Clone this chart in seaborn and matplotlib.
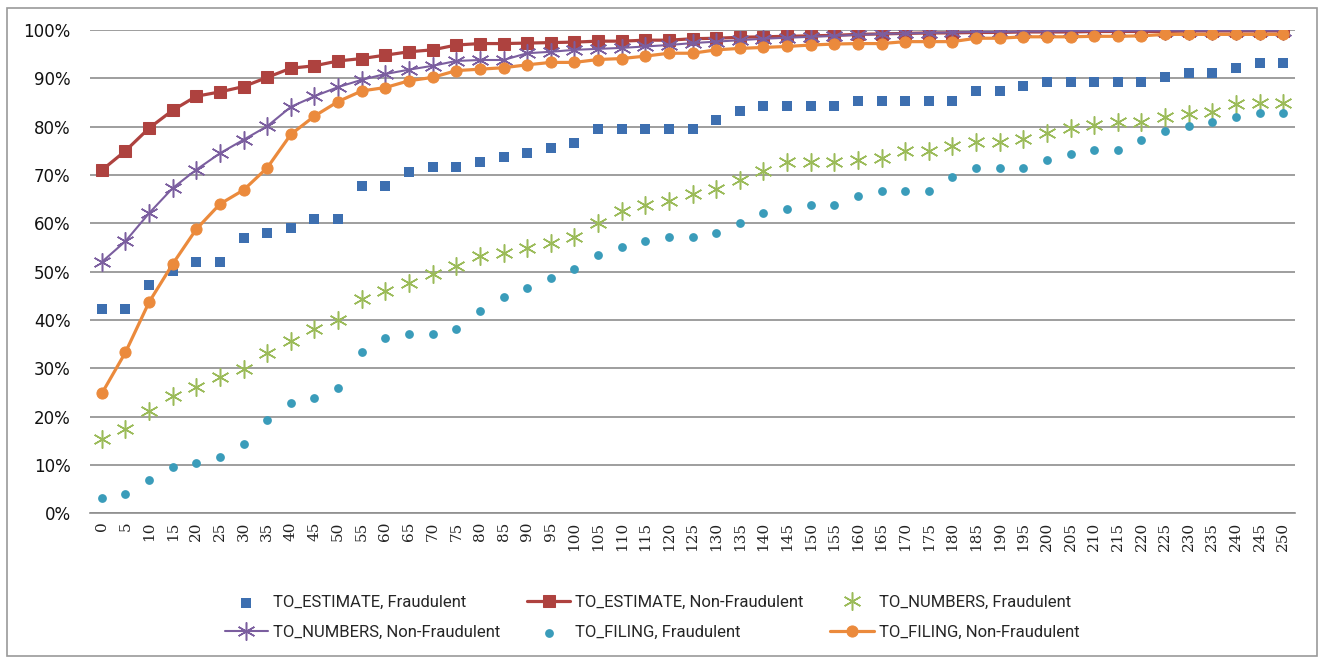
import numpy as np
import pandas as pd
import matplotlib
matplotlib.use("Agg")
import matplotlib.pyplot as plt
from matplotlib.patches import Rectangle
from matplotlib.ticker import PercentFormatter
import seaborn as sns


days = list(range(0, 251, 5))

est_fraud = [42.2, 42.2, 47.2, 50.1, 52.1, 52.1, 57.0, 57.9, 59.0, 60.9, 60.9,
             67.7, 67.7, 70.6, 71.7, 71.7, 72.6, 73.7, 74.5, 75.5, 76.6,
             79.5, 79.5, 79.5, 79.5, 79.5, 81.4, 83.3, 84.3, 84.3, 84.3,
             84.3, 85.3, 85.3, 85.3, 85.3, 85.3, 87.4, 87.4, 88.4, 89.3,
             89.3, 89.3, 89.3, 89.3, 90.2, 91.2, 91.2, 92.2, 93.2, 93.2]
est_nonfraud = [71.0, 75.0, 79.7, 83.4, 86.3, 87.2, 88.3, 90.2, 92.1, 92.6, 93.6,
                94.1, 94.8, 95.5, 95.9, 96.9, 97.2, 97.2, 97.3, 97.4, 97.5,
                97.7, 97.7, 97.9, 97.9, 98.2, 98.3, 98.5, 98.6, 98.7, 98.8,
                98.9, 99.1, 99.2, 99.3, 99.4, 99.4, 99.5, 99.5, 99.6, 99.6,
                99.6, 99.7, 99.7, 99.7, 99.7, 99.8, 99.8, 99.8, 99.8, 99.8]
num_fraud = [15.4, 17.4, 21.2, 24.3, 26.2, 28.3, 29.9, 33.1, 35.7, 38.1, 39.9,
             44.3, 46.1, 47.7, 49.5, 51.2, 53.2, 53.8, 54.8, 56.0, 57.2,
             60.1, 62.6, 63.8, 64.7, 66.1, 67.2, 69.0, 70.9, 72.6, 72.6,
             72.7, 73.2, 73.6, 75.0, 75.0, 75.9, 76.9, 76.9, 77.4, 78.6,
             79.7, 80.3, 81.0, 81.0, 82.1, 82.6, 83.1, 84.7, 85.0, 85.0]
num_nonfraud = [52.0, 56.3, 62.1, 67.3, 71.1, 74.5, 77.3, 80.1, 84.1, 86.3, 88.2,
                89.7, 90.9, 91.8, 92.6, 93.6, 93.8, 93.8, 95.2, 95.5, 95.9,
                96.1, 96.3, 96.6, 96.9, 97.3, 97.6, 97.9, 98.2, 98.4, 98.6,
                98.8, 99.0, 99.2, 99.3, 99.4, 99.5, 99.6, 99.6, 99.7, 99.7,
                99.8, 99.8, 99.8, 99.9, 99.9, 99.9, 99.9, 99.9, 99.9, 99.9]
filing_fraud = [3.1, 3.9, 6.9, 9.5, 10.5, 11.6, 14.3, 19.2, 22.9, 23.9, 25.9,
                33.4, 36.2, 37.2, 37.2, 38.1, 41.9, 44.8, 46.7, 48.6, 50.5,
                53.4, 55.2, 56.3, 57.2, 57.2, 58.1, 60.0, 62.1, 63.0, 63.8,
                63.8, 65.7, 66.7, 66.7, 66.7, 69.6, 71.4, 71.4, 71.4, 73.2,
                74.3, 75.2, 75.2, 77.2, 79.1, 80.1, 81.0, 81.9, 82.9, 82.9]
filing_nonfraud = [24.8, 33.3, 43.7, 51.6, 58.8, 64.0, 66.9, 71.5, 78.4, 82.2, 85.2,
                   87.4, 88.1, 89.5, 90.2, 91.6, 91.9, 92.2, 92.8, 93.3, 93.3,
                   93.9, 94.1, 94.6, 95.2, 95.2, 95.9, 96.2, 96.4, 96.6, 96.9,
                   97.1, 97.2, 97.2, 97.6, 97.6, 97.6, 98.3, 98.3, 98.6, 98.6,
                   98.6, 98.7, 98.7, 98.8, 99.1, 99.1, 99.1, 99.1, 99.1, 99.1]

labels = ["TO_ESTIMATE, Fraudulent", "TO_ESTIMATE, Non-Fraudulent",
          "TO_NUMBERS, Fraudulent", "TO_NUMBERS, Non-Fraudulent",
          "TO_FILING, Fraudulent", "TO_FILING, Non-Fraudulent"]

blue = "#3D6FB0"
red = "#AE423F"
green = "#9BBB59"
purple = "#7B5E9F"
teal = "#3A9CBA"
orange = "#EB8A3C"
grid_col = "#8E8E8E"

sns.set_style("white")
plt.rcParams["font.family"] = ["DejaVu Sans"]

df = pd.DataFrame({"days": days, "est_f": est_fraud, "est_n": est_nonfraud,
                   "num_f": num_fraud, "num_n": num_nonfraud,
                   "fil_f": filing_fraud, "fil_n": filing_nonfraud})

fig = plt.figure(figsize=(13.2, 6.6), dpi=100)
ax = fig.add_axes([0.0682, 0.2223, 0.9129, 0.7322])

# series drawn in Excel order, later ones on top
sns.scatterplot(data=df, x="days", y="est_f", marker="s", s=52, color=blue,
                linewidth=0, label=labels[0], ax=ax, zorder=3)
sns.lineplot(data=df, x="days", y="est_n", marker="s", markersize=8, color=red,
             markeredgecolor=red, linewidth=2.3, label=labels[1], ax=ax, zorder=4)
sns.lineplot(data=df, x="days", y="num_f", marker=(6, 2, 0), markersize=13,
             linestyle="", color=green, markeredgecolor=green, markeredgewidth=1.1,
             label=labels[2], ax=ax, zorder=5)
sns.lineplot(data=df, x="days", y="num_n", marker=(6, 2, 0), markersize=13,
             color=purple, markeredgecolor=purple, markeredgewidth=1.1,
             linewidth=1.5, label=labels[3], ax=ax, zorder=6)
sns.scatterplot(data=df, x="days", y="fil_f", marker="o", s=40, color=teal,
                linewidth=0, label=labels[4], ax=ax, zorder=7)
sns.lineplot(data=df, x="days", y="fil_n", marker="o", markersize=8, color=orange,
             markeredgecolor=orange, linewidth=2.3, label=labels[5], ax=ax, zorder=8)

ax.set_xlim(-2.5, 252.5)
ax.set_ylim(0, 100)
ax.set_xticks(days)
ax.set_xticklabels([str(d) for d in days], rotation=90)
ax.set_yticks(np.arange(0, 101, 10))
ax.yaxis.set_major_formatter(PercentFormatter(100, decimals=0))
ax.tick_params(axis="x", length=0, pad=6, labelsize=11, labelcolor="#222222",
               labelfontfamily="DejaVu Serif")
ax.tick_params(axis="y", length=0, pad=14, labelsize=12, labelcolor="#111111",
               labelfontfamily="DejaVu Sans")
ax.set_xlabel("")
ax.set_ylabel("")
ax.grid(axis="y", color=grid_col, linewidth=1.2)
ax.set_axisbelow(True)
for side in ["top", "right", "left"]:
    ax.spines[side].set_visible(False)
ax.spines["bottom"].set_color(grid_col)
ax.spines["bottom"].set_linewidth(1.2)

handles, labs = ax.get_legend_handles_labels()
if ax.get_legend() is not None:
    ax.get_legend().remove()
order = [0, 3, 1, 4, 2, 5]
fig.legend([handles[i] for i in order], [labs[i] for i in order], ncol=3,
           loc="center", bbox_to_anchor=(0.494, 0.064), frameon=False,
           prop={"family": ["Roboto", "DejaVu Sans"], "size": 12},
           handlelength=2.6, columnspacing=1.6, labelspacing=0.9, handletextpad=0.3)

fig.patches.append(Rectangle((7 / 1320, 4 / 660), 1310 / 1320, 648 / 660,
                             transform=fig.transFigure, fill=False,
                             edgecolor="#9A9A9A", linewidth=1.2))

fig.savefig("out.png", dpi=100)
